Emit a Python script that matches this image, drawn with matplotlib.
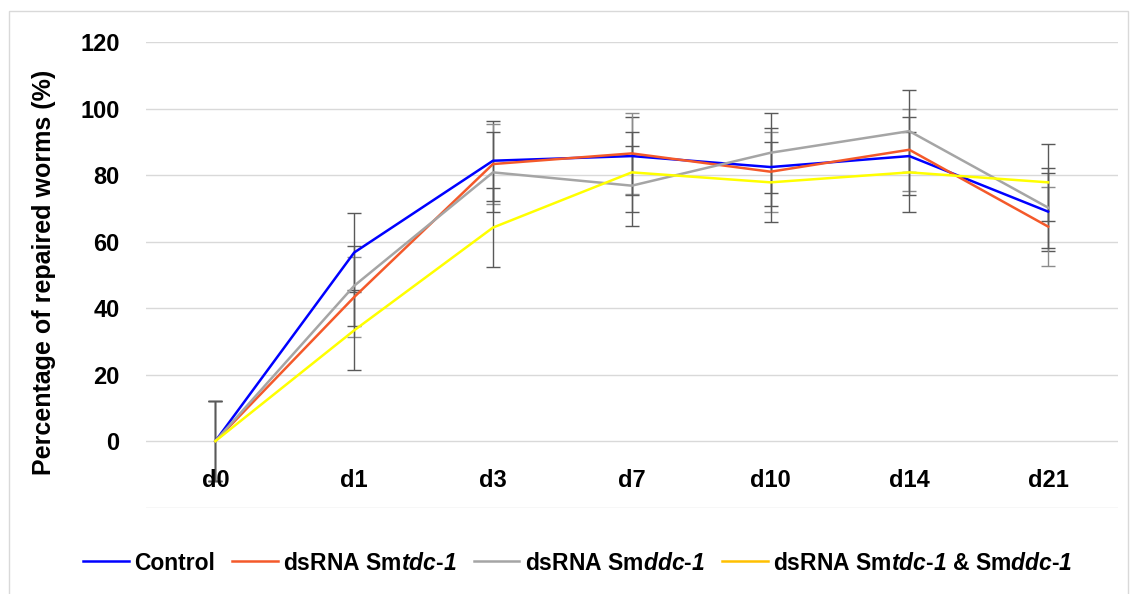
import matplotlib
matplotlib.use("Agg")
import matplotlib.pyplot as plt
from matplotlib.lines import Line2D
from matplotlib.patches import Rectangle
from matplotlib.ticker import FuncFormatter

days = ['d0', 'd1', 'd3', 'd7', 'd10', 'd14', 'd21']
control = [0, 56.7, 84.3, 85.7, 82.4, 85.7, 69.0]
control_err = [12, 12, 12, 11.7, 11.7, 11.7, 11.7]
tdc = [0, 43.3, 83.3, 86.5, 81.0, 87.6, 64.5]
tdc_err = [12, 12, 12, 12.2, 12, 12.4, 12]
ddc = [0, 46.7, 80.8, 76.8, 86.7, 93.2, 70.2]
ddc_err = [12, 12, 12, 12, 12, 12.3, 12]
both = [0, 33.3, 64.2, 80.8, 77.8, 80.8, 77.8]
both_err = [12, 12, 12, 12, 12, 12, 11.6]

labels = ['Control',
          r'dsRNA Sm$tdc$-$1$',
          r'dsRNA Sm$ddc$-$1$',
          r'dsRNA Sm$tdc$-$1$ & Sm$ddc$-$1$']
series = [control, tdc, ddc, both]
errors = [control_err, tdc_err, ddc_err, both_err]
line_colors = ['#0000FF', '#F4592A', '#A5A5A5', '#FFFF00']
legend_colors = ['#0000FF', '#F4592A', '#A5A5A5', '#FFC000']
err_colors = ['#595959', '#8c8c8c', '#595959', '#595959']

plt.rcParams['font.family'] = ['Liberation Sans', 'DejaVu Sans']
plt.rcParams['mathtext.fontset'] = 'custom'
plt.rcParams['mathtext.rm'] = 'Liberation Sans:italic:bold'
plt.rcParams['mathtext.it'] = 'Liberation Sans:italic:bold'
plt.rcParams['mathtext.bf'] = 'Liberation Sans:italic:bold'

W, H = 1136, 594
fig = plt.figure(figsize=(W / 100, H / 100), dpi=100)
left, right, top, bottom = 146, 1117.5, 42, 507.6
ax = fig.add_axes([left / W, 1 - bottom / H, (right - left) / W, (bottom - top) / H])

x = list(range(len(days)))
for vals, errs, c, ec in zip(series, errors, line_colors, err_colors):
    ax.errorbar(x, vals, yerr=errs, color=c, lw=1.8, ecolor=ec, elinewidth=1.0,
                capsize=5, capthick=1.0, zorder=3)

ax.set_xlim(-0.5, len(days) - 0.5)
ax.set_ylim(-20, 120)
ax.set_yticks(range(-20, 121, 20))
ax.yaxis.set_major_formatter(FuncFormatter(lambda v, p: '' if v < 0 else f'{v:.0f}'))
ax.set_xticks(x)
ax.set_xticklabels(days)
ax.grid(axis='y', color='#d9d9d9', lw=1)
ax.set_axisbelow(True)
for s in ax.spines.values():
    s.set_visible(False)
ax.spines['bottom'].set_position(('data', 0))
ax.tick_params(axis='both', length=0, labelsize=17)
ax.tick_params(axis='x', pad=20)
ax.tick_params(axis='y', pad=19)
for t in ax.get_xticklabels() + ax.get_yticklabels():
    t.set_fontweight('bold')
ax.xaxis.set_zorder(4)

ax.set_ylabel('Percentage of repaired worms (%)', fontsize=18, fontweight='bold')
ax.yaxis.set_label_coords((56 - left) / (right - left), (bottom - 272) / (bottom - top))

handles = [Line2D([], [], color=c, lw=1.8) for c in legend_colors]
leg = fig.legend(handles, labels, loc='center', bbox_to_anchor=(0.5084, 1 - 563 / H),
                 ncol=4, frameon=False, fontsize=16.5, handlelength=2.0,
                 handletextpad=0.22, columnspacing=0.75, borderaxespad=0, borderpad=0)
for t in leg.get_texts():
    t.set_fontweight('bold')

fig.patches.append(Rectangle((9 / W, -0.05), (1128 - 9) / W, 1.05 - 11 / H,
                             transform=fig.transFigure, fill=False,
                             edgecolor='#d9d9d9', lw=1))

fig.savefig('out.png', dpi=100)
